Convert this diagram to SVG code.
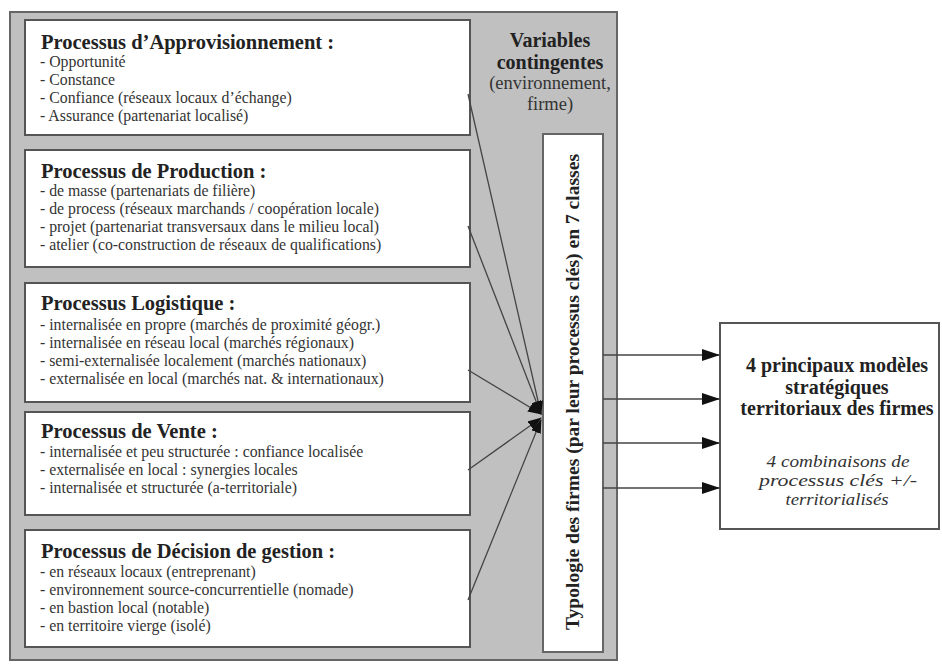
<svg xmlns="http://www.w3.org/2000/svg" width="942" height="666" viewBox="0 0 942 666">
<defs>
<style>
.t{font-family:"Liberation Serif",serif;font-weight:bold;font-size:20.5px;fill:#222}
.i{font-family:"Liberation Serif",serif;font-size:15.8px;fill:#333}
.box{fill:#fff;stroke:#555;stroke-width:2}
.ln{stroke:#444;stroke-width:1.3;fill:none}
.b{font-family:"Liberation Serif",serif;font-weight:bold;fill:#222}
.r{font-family:"Liberation Serif",serif;fill:#333}
.it{font-family:"Liberation Serif",serif;font-style:italic;font-size:17px;fill:#333}
</style>
<marker id="ah" markerWidth="14" markerHeight="10" refX="13" refY="5" orient="auto" markerUnits="userSpaceOnUse">
<path d="M0,0 L14,5 L0,10 Z" fill="#111"/>
</marker>
<marker id="ah2" markerWidth="18" markerHeight="12" refX="17" refY="6" orient="auto" markerUnits="userSpaceOnUse">
<path d="M0,0 L18,6 L0,12 Z" fill="#111"/>
</marker>
</defs>
<rect width="942" height="666" fill="#fff"/>
<rect id="frame" x="10" y="12" width="607" height="648" fill="#c0c0c0" stroke="#666" stroke-width="2"/>

<g id="appro">
<rect class="box" x="25" y="20" width="445" height="115"/>
<text class="t" x="41" y="49">Processus d’Approvisionnement :</text>
<text class="i" x="40" y="67">- Opportunité</text>
<text class="i" x="40" y="85">- Constance</text>
<text class="i" x="40" y="103">- Confiance (réseaux locaux d’échange)</text>
<text class="i" x="40" y="121">- Assurance (partenariat localisé)</text>
</g>

<g id="production">
<rect class="box" x="25" y="150" width="445" height="117"/>
<text class="t" x="41" y="178">Processus de Production :</text>
<text class="i" x="40" y="196">- de masse (partenariats de filière)</text>
<text class="i" x="40" y="214">- de process (réseaux marchands / coopération locale)</text>
<text class="i" x="40" y="232">- projet (partenariat transversaux dans le milieu local)</text>
<text class="i" x="40" y="250">- atelier (co-construction de réseaux de qualifications)</text>
</g>

<g id="logistique">
<rect class="box" x="25" y="283" width="445" height="119"/>
<text class="t" x="41" y="310">Processus Logistique :</text>
<text class="i" x="40" y="330">- internalisée en propre (marchés de proximité géogr.)</text>
<text class="i" x="40" y="348">- internalisée en réseau local (marchés régionaux)</text>
<text class="i" x="40" y="366">- semi-externalisée localement (marchés nationaux)</text>
<text class="i" x="40" y="384">- externalisée en local (marchés nat. &amp; internationaux)</text>
</g>

<g id="vente">
<rect class="box" x="25" y="412" width="445" height="103"/>
<text class="t" x="41" y="438">Processus de Vente :</text>
<text class="i" x="40" y="457">- internalisée et peu structurée : confiance localisée</text>
<text class="i" x="40" y="475">- externalisée en local : synergies locales</text>
<text class="i" x="40" y="493">- internalisée et structurée (a-territoriale)</text>
</g>

<g id="decision">
<rect class="box" x="25" y="530" width="445" height="117"/>
<text class="t" x="41" y="558">Processus de Décision de gestion :</text>
<text class="i" x="40" y="577">- en réseaux locaux (entreprenant)</text>
<text class="i" x="40" y="595">- environnement source-concurrentielle (nomade)</text>
<text class="i" x="40" y="613">- en bastion local (notable)</text>
<text class="i" x="40" y="631">- en territoire vierge (isolé)</text>
</g>

<g id="variables">
<text class="b" x="550" y="47" text-anchor="middle" font-size="20">Variables</text>
<text class="b" x="550" y="69" text-anchor="middle" font-size="20">contingentes</text>
<text class="r" x="550" y="89" text-anchor="middle" font-size="18.5">(environnement,</text>
<text class="r" x="550" y="110" text-anchor="middle" font-size="18.5">firme)</text>
</g>

<g id="typologie">
<rect x="543" y="134" width="60" height="518" fill="#fff" stroke="#666" stroke-width="2"/>
<text class="b" transform="translate(579,392) rotate(-90)" text-anchor="middle" textLength="476" lengthAdjust="spacingAndGlyphs" font-size="18">Typologie des firmes (par leur processus clés) en 7 classes</text>
</g>

<g id="modeles">
<rect x="720" y="323" width="219" height="206" fill="#fff" stroke="#555" stroke-width="2"/>
<text class="b" x="837" y="372" text-anchor="middle" font-size="20">4 principaux modèles</text>
<text class="b" x="837" y="394" text-anchor="middle" font-size="20">stratégiques</text>
<text class="b" x="837" y="415" text-anchor="middle" font-size="20">territoriaux des firmes</text>
<text class="it" x="838" y="467" text-anchor="middle" textLength="143" lengthAdjust="spacingAndGlyphs">4 combinaisons de</text>
<text class="it" x="838" y="486" text-anchor="middle" textLength="158" lengthAdjust="spacingAndGlyphs">processus clés +/-</text>
<text class="it" x="837" y="505" text-anchor="middle" textLength="103" lengthAdjust="spacingAndGlyphs">territorialisés</text>
</g>

<g id="connectors">
<line class="ln" x1="468" y1="94" x2="541" y2="414" marker-end="url(#ah)"/>
<line class="ln" x1="468" y1="226" x2="541" y2="414" marker-end="url(#ah)"/>
<line class="ln" x1="468" y1="370" x2="541" y2="414" marker-end="url(#ah)"/>
<line class="ln" x1="468" y1="470" x2="541" y2="418" marker-end="url(#ah)"/>
<line class="ln" x1="468" y1="600" x2="541" y2="420" marker-end="url(#ah)"/>
<line class="ln" x1="603" y1="355" x2="719" y2="355" marker-end="url(#ah2)"/>
<line class="ln" x1="603" y1="399" x2="719" y2="399" marker-end="url(#ah2)"/>
<line class="ln" x1="603" y1="443" x2="719" y2="443" marker-end="url(#ah2)"/>
<line class="ln" x1="603" y1="488" x2="719" y2="488" marker-end="url(#ah2)"/>
</g>
</svg>
